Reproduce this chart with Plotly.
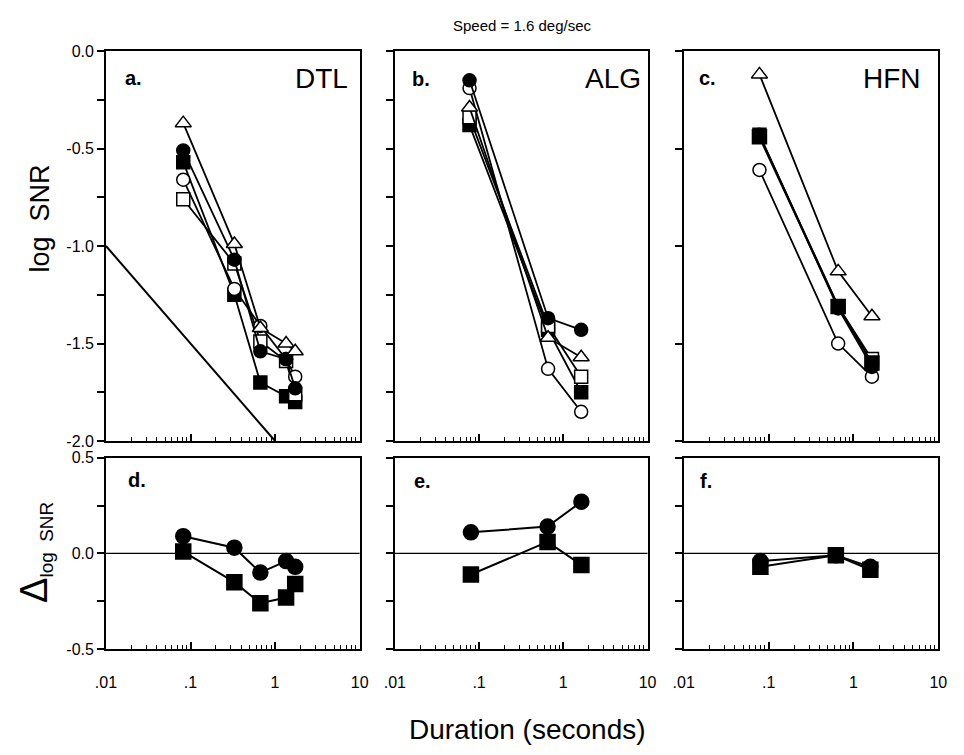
import plotly.graph_objects as go
from plotly.subplots import make_subplots

# ---------------- data ----------------
dur_a = [0.082, 0.33, 0.67, 1.35, 1.73]
a_tri_open = [-0.37, -0.99, -1.42, -1.50, -1.54]
a_circ_fill = [-0.51, -1.07, -1.54, -1.58, -1.73]
a_sq_fill = [-0.57, -1.25, -1.70, -1.77, -1.80]
a_circ_open = [-0.66, -1.22, -1.41, -1.58, -1.67]
a_sq_open = [-0.76, -1.09, -1.49, -1.59, -1.76]
ideal_x = [0.01, 1.0]
ideal_y = [-1.0, -2.0]

dur_b = [0.077, 0.66, 1.63]
b_circ_fill = [-0.15, -1.37, -1.43]
b_circ_open = [-0.19, -1.63, -1.85]
b_tri_open = [-0.29, -1.47, -1.57]
b_sq_open = [-0.34, -1.41, -1.67]
b_sq_fill = [-0.38, -1.43, -1.75]

dur_c = [0.078, 0.66, 1.65]
c_tri_open = [-0.12, -1.13, -1.36]
c_sq_open = [-0.43, -1.31, -1.58]
c_circ_fill = [-0.43, -1.32, -1.62]
c_sq_fill = [-0.44, -1.31, -1.60]
c_circ_open = [-0.61, -1.50, -1.67]

d_circ = [0.09, 0.03, -0.10, -0.04, -0.07]
d_sq = [0.01, -0.15, -0.26, -0.23, -0.16]
dur_e = [0.08, 0.65, 1.64]
e_circ = [0.11, 0.14, 0.27]
e_sq = [-0.11, 0.06, -0.06]
dur_f = [0.08, 0.62, 1.58]
f_circ = [-0.04, -0.01, -0.07]
f_sq = [-0.07, -0.01, -0.085]

x_tickvals = [0.01, 0.1, 1, 10]
x_ticktext = [".01", ".1", "1", "10"]
top_tickvals = [0, -0.5, -1.0, -1.5, -2.0]
top_ticktext = ["0.0", "-0.5", "-1.0", "-1.5", "-2.0"]
top_minor = [-0.25, -0.75, -1.25, -1.75]
bot_tickvals = [0.5, 0, -0.5]
bot_ticktext = ["0.5", "0.0", "-0.5"]
bot_minor = [0.25, -0.25]

FONT = "Liberation Sans, Arial, Helvetica, sans-serif"

fig = make_subplots(rows=2, cols=3)

def add(xs, ys, sym, filled, row, col, size=13, lw=1.8):
    fig.add_trace(go.Scatter(
        x=xs, y=ys, mode="lines+markers",
        line=dict(color="black", width=lw),
        marker=dict(symbol=sym, size=size,
                    color="black" if filled else "white",
                    line=dict(color="black", width=1.5)),
        showlegend=False, hoverinfo="skip"), row=row, col=col)

# panel a
fig.add_trace(go.Scatter(x=ideal_x, y=ideal_y, mode="lines",
                         line=dict(color="black", width=2),
                         showlegend=False, hoverinfo="skip"), row=1, col=1)
add(dur_a, a_sq_fill, "square", True, 1, 1)
add(dur_a, a_sq_open, "square", False, 1, 1)
add(dur_a, a_circ_open, "circle", False, 1, 1)
add(dur_a, a_circ_fill, "circle", True, 1, 1)
add(dur_a, a_tri_open, "triangle-up", False, 1, 1, size=14)

# panel b
add(dur_b, b_sq_fill, "square", True, 1, 2)
add(dur_b, b_sq_open, "square", False, 1, 2)
add(dur_b, b_circ_open, "circle", False, 1, 2)
add(dur_b, b_tri_open, "triangle-up", False, 1, 2, size=14)
add(dur_b, b_circ_fill, "circle", True, 1, 2)

# panel c
add(dur_c, c_circ_open, "circle", False, 1, 3)
add(dur_c, c_sq_open, "square", False, 1, 3)
add(dur_c, c_circ_fill, "circle", True, 1, 3)
add(dur_c, c_sq_fill, "square", True, 1, 3, size=14, lw=2.2)
add(dur_c, c_tri_open, "triangle-up", False, 1, 3, size=14)

# bottom panels
add(dur_a, d_sq, "square", True, 2, 1, size=15, lw=2)
add(dur_a, d_circ, "circle", True, 2, 1, size=15, lw=2)
add(dur_e, e_sq, "square", True, 2, 2, size=15, lw=2)
add(dur_e, e_circ, "circle", True, 2, 2, size=15, lw=2)
add(dur_f, f_sq, "square", True, 2, 3, size=15, lw=2)
add(dur_f, f_circ, "circle", True, 2, 3, size=15, lw=2)

W, H = 964, 755
xdom = [(97, 356), (392, 650), (687, 947)]
ydom = [(44, 443), (460, 656)]

minor_vals = [m * 10 ** e for e in (-2, -1, 0) for m in range(2, 10)]

for r in (1, 2):
    for c in (1, 2, 3):
        x0, x1 = xdom[c - 1]
        y0, y1 = ydom[r - 1]
        fig.update_xaxes(
            row=r, col=c, type="log", range=[-2, 1],
            domain=[x0 / W, x1 / W],
            tickmode="array", tickvals=x_tickvals, ticktext=x_ticktext,
            showticklabels=(r == 2), ticks="inside", ticklen=7, tickwidth=1.5,
            tickcolor="black", ticklabelstandoff=18,
            minor=dict(tickvals=minor_vals, ticks="inside", ticklen=4,
                       tickwidth=1.3, tickcolor="black", showgrid=False),
            showline=True, linecolor="black", linewidth=1.8, mirror=True,
            showgrid=False, zeroline=False,
            tickfont=dict(family=FONT, size=16, color="black"),
        )
        if r == 1:
            tv, tt, rng = top_tickvals, top_ticktext, [-2, 0]
            mv = top_minor if c < 3 else []
        else:
            tv, tt, rng, mv = bot_tickvals, bot_ticktext, [-0.5, 0.5], bot_minor
        fig.update_yaxes(
            row=r, col=c, range=rng, domain=[1 - y1 / H, 1 - y0 / H],
            tickmode="array", tickvals=tv, ticktext=tt,
            showticklabels=(c == 1), ticks="outside", ticklen=7, tickwidth=1.5,
            tickcolor="black",
            minor=dict(tickvals=mv, ticks="outside", ticklen=7, tickwidth=1.5,
                       tickcolor="black", showgrid=False),
            showline=True, linecolor="black", linewidth=1.8, mirror=True,
            showgrid=False, zeroline=False,
            tickfont=dict(family=FONT, size=16, color="black"),
        )

# zero lines in bottom panels
for ax in ["4", "5", "6"]:
    fig.add_shape(type="line", xref=f"x{ax} domain", yref=f"y{ax}",
                  x0=0, x1=1, y0=0, y1=0,
                  line=dict(color="black", width=1.3), layer="below")

ann = []
def txt(x, y, s, size, bold=False, xanchor="left", angle=0, fam=FONT):
    ann.append(dict(x=x / W, y=1 - y / H, xref="paper", yref="paper",
                    text=f"<b>{s}</b>" if bold else s, showarrow=False,
                    xanchor=xanchor, yanchor="middle", textangle=angle,
                    font=dict(family=fam, size=size, color="black")))

txt(114, 72, "a.", 20, bold=True)
txt(407, 73, "b.", 20, bold=True)
txt(701, 72, "c.", 20, bold=True)
txt(117, 483, "d.", 20, bold=True)
txt(410, 484, "e.", 20, bold=True)
txt(702, 484, "f.", 20, bold=True)
txt(288, 72, "DTL", 28)
txt(584, 72, "ALG", 28)
txt(868, 72, "HFN", 28)
txt(522, 18, "Speed = 1.6 deg/sec", 15, xanchor="center",
    fam="Liberation Sans Narrow, Liberation Sans, Arial")
txt(404, 738, "Duration (seconds)", 28, xanchor="left")
txt(30, 215, "log  SNR", 27, xanchor="center", angle=-90)
txt(25, 557, "<span style='font-size:38px'>Δ</span><sub>log  SNR</sub>", 27,
    xanchor="center", angle=-90)

fig.update_layout(
    width=W, height=H, autosize=False,
    margin=dict(l=0, r=0, t=0, b=0),
    paper_bgcolor="white", plot_bgcolor="white",
    annotations=ann, showlegend=False,
)

fig.write_html("out.html")
